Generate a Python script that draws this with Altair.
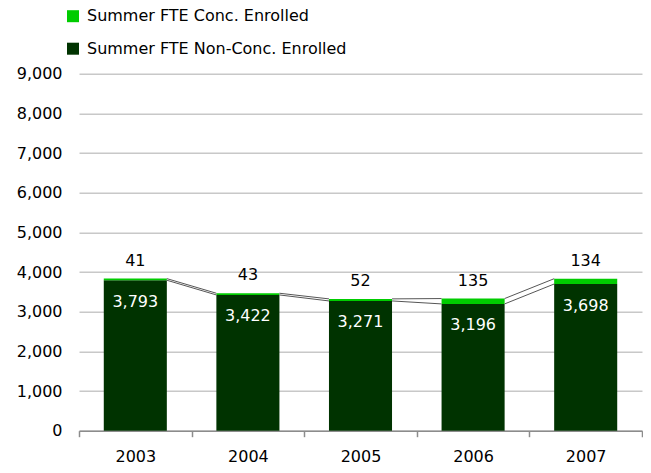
import altair as alt
import pandas as pd

years = ["2003", "2004", "2005", "2006", "2007"]
non_conc = [3793, 3422, 3271, 3196, 3698]
conc = [41, 43, 52, 135, 134]
series_names = ["Summer FTE Conc. Enrolled", "Summer FTE Non-Conc. Enrolled"]
colors = ["#00CC00", "#003300"]
y_ticks = [0, 1000, 2000, 3000, 4000, 5000, 6000, 7000, 8000, 9000]

FONT = "DejaVu Sans"
BAR_BAND = 0.56

rows = []
for y, n, c in zip(years, non_conc, conc):
    rows.append({"year": y, "series": series_names[1], "value": n, "ord": 0})
    rows.append({"year": y, "series": series_names[0], "value": c, "ord": 1})
df = pd.DataFrame(rows)

wide = pd.DataFrame({"year": years, "non": non_conc, "conc": conc})
wide["total"] = wide["non"] + wide["conc"]

lines = pd.DataFrame({
    "year": years[:-1],
    "next_year": years[1:],
    "non": non_conc[:-1],
    "next_non": non_conc[1:],
    "total": list(wide["total"][:-1]),
    "next_total": list(wide["total"][1:]),
})

xscale = alt.Scale(domain=years, paddingInner=0, paddingOuter=0)
yscale = alt.Scale(domain=[0, 9000], nice=False)

xaxis = alt.Axis(
    title=None, tickBand="extent", labelAngle=0, labelFont=FONT, labelFontSize=16,
    labelColor="#000000", domainColor="#8c8c8c", domainWidth=1.5, tickColor="#8c8c8c",
    tickWidth=1.5, tickSize=6, labelPadding=11.5, grid=False,
)
yaxis = alt.Axis(
    title=None, values=y_ticks, format=",.0f", labelFont=FONT, labelFontSize=16,
    labelColor="#000000", domain=False, ticks=False, tickSize=0, labelPadding=17,
    grid=True, gridColor="#c8c8c8", gridWidth=1.5,
)

X = lambda f, **kw: alt.X(f, scale=xscale, axis=xaxis, sort=years, **kw)
Y = lambda f, **kw: alt.Y(f, scale=yscale, axis=yaxis, **kw)

bars = alt.Chart(df).mark_bar(width={"band": BAR_BAND}).encode(
    x=X("year:N"),
    y=Y("sum(value):Q", stack="zero"),
    color=alt.Color(
        "series:N",
        scale=alt.Scale(domain=series_names, range=colors),
        legend=alt.Legend(
            title=None, orient="none", legendX=-14, legendY=-65.5, symbolType="square",
            symbolSize=144, symbolStrokeWidth=0, labelFont=FONT, labelFontSize=16,
            labelColor="#000000", labelOffset=6, rowPadding=16.5, padding=0,
            labelLimit=0,
        ),
    ),
    order=alt.Order("ord:Q"),
)

right_edge = 0.5 + BAR_BAND / 2
left_edge = 0.5 - BAR_BAND / 2

line_non = alt.Chart(lines).mark_rule(color="#555555", strokeWidth=1).encode(
    x=X("year:N", bandPosition=right_edge),
    x2=alt.X2("next_year:N", bandPosition=left_edge),
    y=Y("non:Q"),
    y2="next_non:Q",
)
line_tot = alt.Chart(lines).mark_rule(color="#555555", strokeWidth=1).encode(
    x=X("year:N", bandPosition=right_edge),
    x2=alt.X2("next_year:N", bandPosition=left_edge),
    y=Y("total:Q"),
    y2="next_total:Q",
)

lab_non = alt.Chart(wide).mark_text(
    font=FONT, fontSize=16, color="#ffffff", baseline="middle", dy=21.5
).encode(
    x=X("year:N"),
    y=Y("non:Q"),
    text=alt.Text("non:Q", format=","),
)
lab_conc = alt.Chart(wide).mark_text(
    font=FONT, fontSize=16, color="#000000", baseline="middle", dy=-18
).encode(
    x=X("year:N"),
    y=Y("total:Q"),
    text=alt.Text("conc:Q", format=","),
)

chart = alt.layer(bars, line_non, line_tot, lab_non, lab_conc).properties(
    width=563, height=357,
    autosize=alt.AutoSizeParams(type="none"),
    padding={"left": 71, "top": 65.7, "right": 1, "bottom": 34},
).configure_view(stroke=None)

chart.save("out.html", embed_options={"renderer": "svg", "actions": False})
